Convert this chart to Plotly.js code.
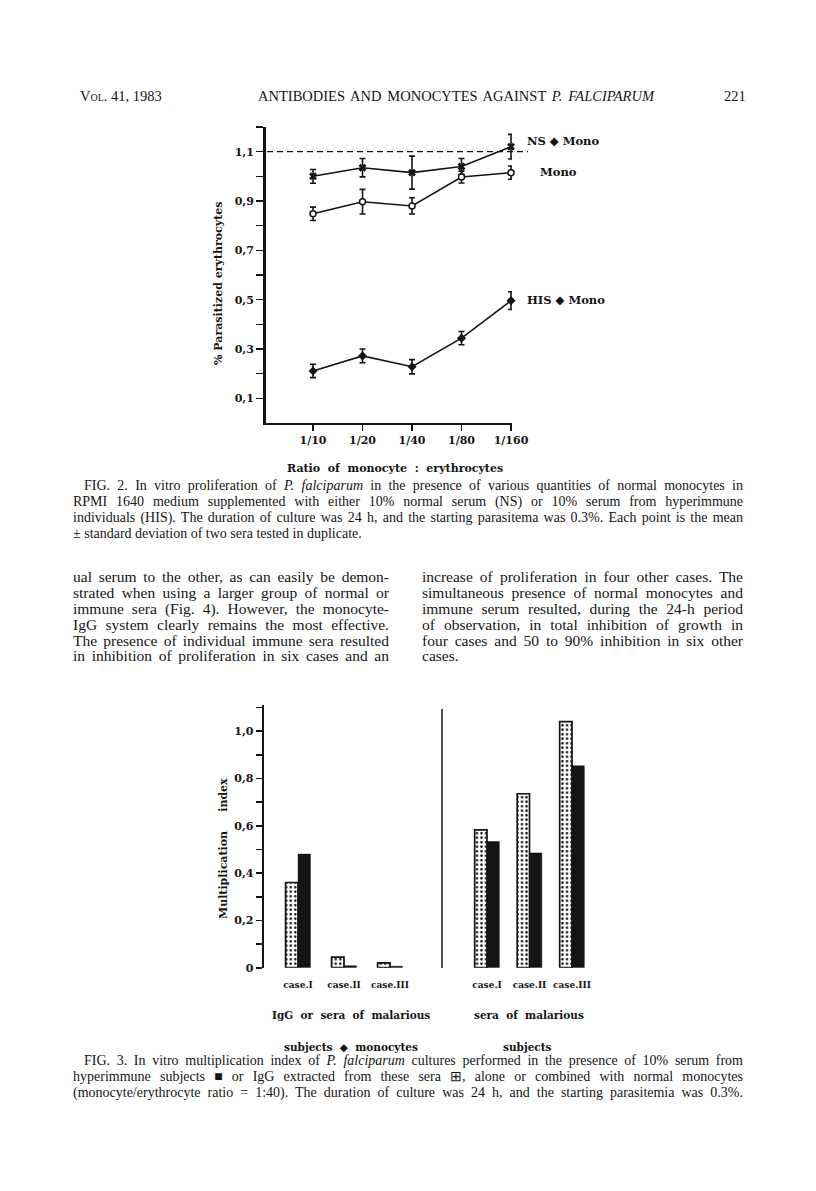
<!DOCTYPE html>
<html><head><meta charset="utf-8">
<script src="https://cdn.plot.ly/plotly-3.0.1.min.js"></script>
<style>
html,body{margin:0;padding:0;background:#fff;}
#page{position:relative;width:816px;height:1191px;overflow:hidden;background:#fff;}
#plot{position:absolute;left:0;top:0;width:816px;height:1191px;}
#txt{position:absolute;left:0;top:0;width:816px;height:1191px;pointer-events:none;}
.ln{position:absolute;white-space:nowrap;font-family:"Liberation Serif","Times New Roman",serif;color:#151515;line-height:16px;}
</style></head><body>
<div id="page"><div id="plot"></div><div id="txt"></div></div>
<script>
// ---------- DATA ----------
// Fig. 2
const ratios = ['1/10', '1/20', '1/40', '1/80', '1/160'];
const nsMono = [1.000, 1.035, 1.015, 1.040, 1.120];
const nsMonoErr = [0.028, 0.037, 0.067, 0.032, 0.050];
const mono = [0.848, 0.897, 0.880, 0.997, 1.015];
const monoErr = [0.027, 0.050, 0.033, 0.024, 0.027];
const hisMono = [0.211, 0.272, 0.228, 0.344, 0.496];
const hisMonoErr = [0.027, 0.028, 0.029, 0.027, 0.036];
const fig2RefLevel = 1.1;
const fig2TickVals = [0.1, 0.2, 0.3, 0.4, 0.5, 0.6, 0.7, 0.8, 0.9, 1.0, 1.1, 1.2];
const fig2TickText = ['0,1', '', '0,3', '', '0,5', '', '0,7', '', '0,9', '', '1,1', ''];
// Fig. 3
const cases = ['case.I', 'case.II', 'case.III'];
const igGWithMono = [0.360, 0.045, 0.020];
const seraWithMono = [0.480, 0.008, 0.006];
const igGAlone = [0.582, 0.735, 1.040];
const seraAlone = [0.533, 0.485, 0.853];
const fig3TickVals = [0, 0.1, 0.2, 0.3, 0.4, 0.5, 0.6, 0.7, 0.8, 0.9, 1.0, 1.1];
const fig3TickText = ['0', '', '0,2', '', '0,4', '', '0,6', '', '0,8', '', '1,0', ''];

// ---------- LAYOUT HELPERS ----------
const W = 816, H = 1191;
const px = x => x / W;
const py = y => 1 - y / H;
const INK = '#141414';
const F = 'DejaVu Serif, serif';
const tf = (s) => ({family: F, size: s, color: INK, weight: 'bold'});

const errStyle = arr => ({type: 'data', array: arr, visible: true, color: INK, thickness: 1.6, width: 3});

const traces = [
  {x: ratios, y: nsMono, error_y: errStyle(nsMonoErr), mode: 'lines+markers', name: 'NS + Mono',
   line: {color: INK, width: 1.6}, marker: {symbol: 'x', size: 7, color: INK}, xaxis: 'x', yaxis: 'y', cliponaxis: false},
  {x: ratios, y: mono, error_y: errStyle(monoErr), mode: 'lines+markers', name: 'Mono',
   line: {color: INK, width: 1.6}, marker: {symbol: 'circle', size: 6, color: '#fff', line: {color: INK, width: 1.5}}, xaxis: 'x', yaxis: 'y', cliponaxis: false},
  {x: ratios, y: hisMono, error_y: errStyle(hisMonoErr), mode: 'lines+markers', name: 'HIS + Mono',
   line: {color: INK, width: 1.6}, marker: {symbol: 'diamond', size: 7, color: INK}, xaxis: 'x', yaxis: 'y', cliponaxis: false}
];

const dotted = {color: '#fff', line: {color: INK, width: 1.7},
  pattern: {shape: '.', fgcolor: INK, bgcolor: '#fff', size: 4.5, solidity: 0.25}};
const solid = {color: INK, line: {color: INK, width: 0.5}};
const wL = 0.27, wR = 0.29;
traces.push(
  {type: 'bar', x: cases, y: igGWithMono, width: wL, offset: -wL, marker: dotted, xaxis: 'x2', yaxis: 'y2', name: 'IgG'},
  {type: 'bar', x: cases, y: seraWithMono, width: wL, offset: 0, marker: solid, xaxis: 'x2', yaxis: 'y2', name: 'serum'},
  {type: 'bar', x: cases, y: igGAlone, width: wR, offset: -wR, marker: dotted, xaxis: 'x3', yaxis: 'y2', name: 'IgG'},
  {type: 'bar', x: cases, y: seraAlone, width: wR, offset: 0, marker: solid, xaxis: 'x3', yaxis: 'y2', name: 'serum'}
);

const catAxis = (d) => ({domain: d, type: 'category', range: [-0.5, 2.5], anchor: 'y2', showline: false,
  showgrid: false, zeroline: false, ticks: 'outside', ticklen: 8, tickcolor: 'rgba(0,0,0,0)', tickfont: tf(9), fixedrange: true});

const ann = (text, x, y, size, opts) => Object.assign({text, x: px(x), y: py(y), xref: 'paper', yref: 'paper',
  showarrow: false, font: tf(size), xanchor: 'center', yanchor: 'middle'}, opts || {});

const layout = {
  width: W, height: H, margin: {l: 0, r: 0, t: 0, b: 0}, paper_bgcolor: '#fff', plot_bgcolor: 'rgba(0,0,0,0)',
  showlegend: false, barmode: 'overlay',
  xaxis: {domain: [px(266), px(512)], type: 'category', range: [-0.95, 4.02], anchor: 'y', showline: true,
    linewidth: 2, linecolor: INK, ticks: 'outside', ticklen: 6, tickwidth: 1.6, tickcolor: INK,
    tickfont: tf(11), showgrid: false, zeroline: false, fixedrange: true},
  yaxis: {domain: [py(423), py(127)], range: [0, 1.2], anchor: 'x', showline: true, linewidth: 3, linecolor: INK,
    ticks: 'outside', ticklen: 7, tickwidth: 1.6, tickcolor: INK, tickmode: 'array', tickvals: fig2TickVals,
    ticktext: fig2TickText, tickfont: tf(11), showgrid: false, zeroline: false, fixedrange: true},
  xaxis2: catAxis([px(275), px(413)]),
  xaxis3: catAxis([px(465.75), px(593.25)]),
  yaxis2: {domain: [py(967.7), py(705)], range: [0, 1.11], anchor: 'free', position: px(262.7), showline: true,
    linewidth: 2.5, linecolor: INK, ticks: 'outside', ticklen: 6, tickwidth: 1.6, tickcolor: INK, tickmode: 'array',
    tickvals: fig3TickVals, ticktext: fig3TickText, tickfont: tf(11), showgrid: false, zeroline: false, fixedrange: true},
  shapes: [
    {type: 'line', xref: 'paper', yref: 'y', x0: px(267), x1: px(528), y0: fig2RefLevel, y1: fig2RefLevel,
     line: {color: INK, width: 1.2, dash: '6px,4px'}},
    {type: 'line', xref: 'paper', yref: 'paper', x0: px(442), x1: px(442), y0: py(968), y1: py(709),
     line: {color: INK, width: 1.5}}
  ],
  annotations: [
    ann('NS ◆ Mono', 525, 141, 11.5, {xanchor: 'left'}),
    ann('Mono', 538, 172, 11.5, {xanchor: 'left'}),
    ann('HIS ◆ Mono', 525, 300, 11.5, {xanchor: 'left'}),
    ann('% Parasitized erythrocytes', 218, 284, 11, {textangle: -90}),
    ann('Ratio  of  monocyte  :  erythrocytes', 395, 468, 11),
    ann('Multiplication     index', 223, 848, 11, {textangle: -90}),
    ann('IgG  or  sera  of  malarious', 351, 1015, 10.5),
    ann('sera  of  malarious', 529, 1015, 10.5),
    ann('subjects  ◆  monocytes', 351, 1047, 10.5),
    ann('subjects', 527, 1047, 10.5)
  ]
};

Plotly.newPlot('plot', traces, layout, {staticPlot: true, displayModeBar: false});

// ---------- PAGE TEXT ----------
const txt = document.getElementById('txt');
const lines = [];
function addLine(html, left, cy, width, size, justify) {
  const d = document.createElement('div');
  d.className = 'ln';
  d.style.left = left + 'px';
  d.style.top = (cy - 9) + 'px';
  d.style.fontSize = size + 'px';
  d.innerHTML = html;
  txt.appendChild(d);
  lines.push({d, width, justify});
}
function justifyAll() {
  lines.forEach(o => {
    if (!o.justify) return;
    o.d.style.wordSpacing = '0px';
    const w = o.d.getBoundingClientRect().width;
    const n = (o.d.textContent.match(/ /g) || []).length;
    if (n > 0) o.d.style.wordSpacing = ((o.width - w) / n) + 'px';
  });
}

// header
addLine('V<span style="font-variant:small-caps">ol</span>. 41, 1983', 80, 97, 0, 14.5, false);
addLine('ANTIBODIES AND MONOCYTES AGAINST <i>P. FALCIPARUM</i>', 258, 97, 396, 14.5, true);
addLine('221', 724, 97, 0, 14.5, false);

// Fig 2 caption
const c2 = [
  'FIG. 2. In vitro proliferation of <i>P. falciparum</i> in the presence of various quantities of normal monocytes in',
  'RPMI 1640 medium supplemented with either 10% normal serum (NS) or 10% serum from hyperimmune',
  'individuals (HIS). The duration of culture was 24 h, and the starting parasitema was 0.3%. Each point is the mean',
  '± standard deviation of two sera tested in duplicate.'
];
const c2y = [487, 503, 519, 535];
c2.forEach((t, i) => addLine(t, i === 0 ? 84 : 73, c2y[i], i === 0 ? 659 : 670, 14, i < 3));

// body text
const colL = [
  'ual serum to the other, as can easily be demon-',
  'strated when using a larger group of normal or',
  'immune sera (Fig. 4). However, the monocyte-',
  'IgG system clearly remains the most effective.',
  'The presence of individual immune sera resulted',
  'in inhibition of proliferation in six cases and an'
];
const colR = [
  'increase of proliferation in four other cases. The',
  'simultaneous presence of normal monocytes and',
  'immune serum resulted, during the 24-h period',
  'of observation, in total inhibition of growth in',
  'four cases and 50 to 90% inhibition in six other',
  'cases.'
];
const bodyY = [578, 594, 610, 626, 641.5, 657];
colL.forEach((t, i) => addLine(t, 73, bodyY[i], 316, 15.5, true));
colR.forEach((t, i) => addLine(t, 422, bodyY[i], 321, 15.5, i < 5));

// Fig 3 caption
const c3 = [
  'FIG. 3. In vitro multiplication index of <i>P. falciparum</i> cultures performed in the presence of 10% serum from',
  'hyperimmune subjects ■ or IgG extracted from these sera ⊞, alone or combined with normal monocytes',
  '(monocyte/erythrocyte ratio = 1:40). The duration of culture was 24 h, and the starting parasitemia was 0.3%.'
];
const c3y = [1062, 1078, 1094];
c3.forEach((t, i) => addLine(t, i === 0 ? 84 : 73, c3y[i], i === 0 ? 659 : 670, 14, true));

justifyAll();
if (document.fonts && document.fonts.ready) document.fonts.ready.then(justifyAll);
</script>
</body></html>
